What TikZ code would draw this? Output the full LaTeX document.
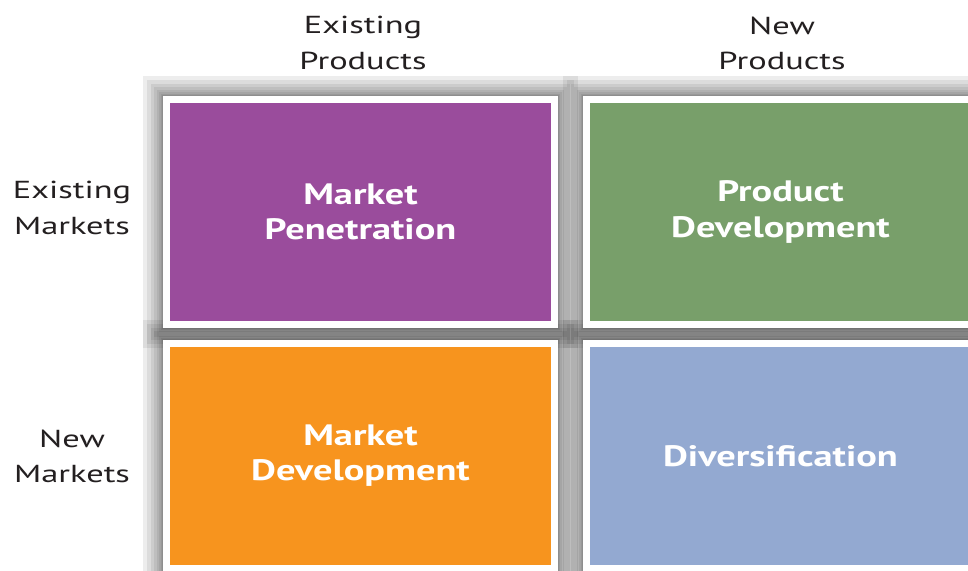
\documentclass[tikz,border=0pt]{standalone}
\usepackage{fontspec}
\setmainfont{PT Sans}[FakeStretch=1.4, BoldFeatures={FakeStretch=1.3}]
\usepackage{xcolor}
\usepackage{tikz}
\usetikzlibrary{positioning,backgrounds}
\definecolor{c_pen}{HTML}{9A4C9C}
\definecolor{c_prod}{HTML}{789F6A}
\definecolor{c_mdev}{HTML}{F7941E}
\definecolor{c_div}{HTML}{93A9D1}
\definecolor{c_text}{HTML}{231F20}
\tikzset{c-cell/.style={rectangle, minimum width=9.7cm, minimum height=5.625cm, text width=9cm, align=center, draw=white, line width=0.175cm, text=white, font=\fontsize{21}{25}\selectfont\bfseries},
c-label/.style={align=center, text=c_text, font=\fontsize{17.5}{25}\selectfont},
c-shade/.style={fill=black, opacity=0.07}}

\begin{document}
\begin{tikzpicture}
\useasboundingbox (0,0) rectangle (24.2,-14.25);
\clip (0,0) rectangle (24.2,-14.25);
\node (pen) [c-cell, fill=c_pen] at (9.0125,-5.3) {Market\\Penetration};
\node (prod) [c-cell, fill=c_prod, right=0.625cm of pen] {Product\\Development};
\node (mdev) [c-cell, fill=c_mdev, below=0.3cm of pen] {Market\\Development};
\node (div) [c-cell, fill=c_div, below=0.3cm of prod] {Diversification};
% soft shadow round each cell
\begin{scope}[on background layer]
\foreach \c in {pen,prod,mdev,div}
  \foreach \d in {1,2,4,6,9,12,16,20}
    \fill [c-shade] ([shift={(-\d*0.025,\d*0.025)}]\c.north west) rectangle ([shift={(\d*0.025,-\d*0.025)}]\c.south east);
\end{scope}
% axis labels
\node (exprod) [c-label] at (9.075,-1.075) {Existing\\Products};
\node (newprod) [c-label] at (19.55,-1.075) {New\\Products};
\node (exmark) [c-label] at (1.8,-5.2) {Existing\\Markets};
\node (newmark) [c-label] at (1.8,-11.4) {New\\Markets};
\end{tikzpicture}
\end{document}
